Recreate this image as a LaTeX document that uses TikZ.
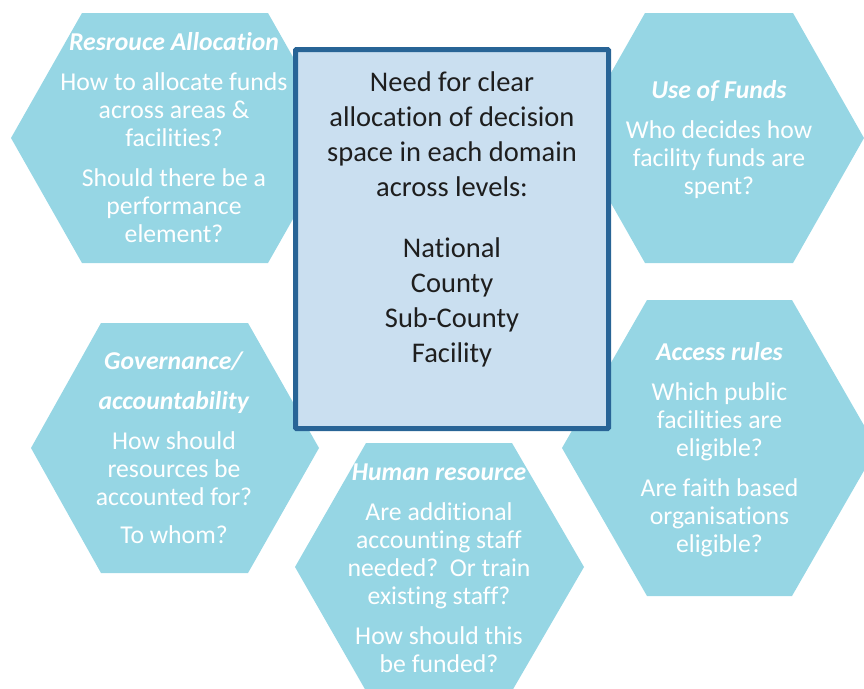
\documentclass[tikz,border=0pt]{standalone}
\usepackage{fontspec}
\setmainfont[Ligatures=NoCommon]{Carlito}
\definecolor{hexfill}{RGB}{150,214,228}
\definecolor{boxfill}{RGB}{202,223,240}
\definecolor{boxline}{RGB}{40,100,150}
\definecolor{boxtext}{RGB}{30,30,30}
\tikzset{
  hexshape/.style={fill=hexfill, draw=none},
  hextext/.style={text=white, align=center, inner sep=0pt,
    font=\fontsize{25.7}{28}\selectfont},
  boxtextstyle/.style={text=boxtext, align=center, inner sep=0pt,
    font=\fontsize{28.5}{35}\selectfont},
  mainbox/.style={fill=boxfill, draw=boxline, line width=5pt, rounded corners=1pt},
}
\newcommand{\hd}[1]{\textbf{\textit{#1}}}
\begin{document}
\begin{tikzpicture}[x=1pt,y=-1pt]
\useasboundingbox (0,0) rectangle (864,688);
\clip (0,0) rectangle (864,688);
% hexagons
\fill[hexshape] (11,138) -- (82,13) -- (268,13) -- (339,138) -- (268,263) -- (82,263) -- cycle;
\fill[hexshape] (574,138) -- (645,13) -- (793,13) -- (864,138) -- (793,263) -- (645,263) -- cycle;
\fill[hexshape] (31,448) -- (101,323) -- (248,323) -- (319,448) -- (248,573) -- (101,573) -- cycle;
\fill[hexshape] (295,567) -- (366,443) -- (512,443) -- (584,567) -- (512,691) -- (366,691) -- cycle;
\fill[hexshape] (562,448) -- (647,300) -- (792,300) -- (877,448) -- (792,596) -- (647,596) -- cycle;
% central box
\draw[mainbox] (295.5,49.5) rectangle (608.5,428.5);
% texts
\node[hextext] (t1) at (174,141) {\strut\hd{Resrouce Allocation}\\[12pt]
  How to allocate funds\\ across areas \&\\ facilities?\\[12pt]
  Should there be a\\ performance\\ element?\strut};
\node[hextext] (t2) at (719,141) {\strut\hd{Use of Funds}\\[12pt]
  Who decides how\\ facility funds are\\ spent?\strut};
\node[hextext] (t3) at (174,451) {\strut\hd{Governance/}\\[12pt]
  \hd{accountability}\\[12pt]
  How should\\ resources be\\ accounted for?\\[10pt]
  To whom?\strut};
\node[hextext] (t4) at (439,570.5) {\strut\hd{Human resource}\\[12pt]
  Are additional\\ accounting staff\\ needed?\ \ Or train\\ existing staff?\\[12pt]
  How should this\\ be funded?\strut};
\node[hextext] (t5) at (719.5,451) {\strut\hd{Access rules}\\[12pt]
  Which public\\ facilities are\\ eligible?\\[12pt]
  Are faith based\\ organisations\\ eligible?\strut};
\node[boxtextstyle] (tc) at (452,219.5) {\strut Need for clear\\ allocation of decision\\
  space in each domain\\ across levels:\\[26pt]
  National\\ County\\ Sub-County\\ Facility\strut};
\end{tikzpicture}
\end{document}
